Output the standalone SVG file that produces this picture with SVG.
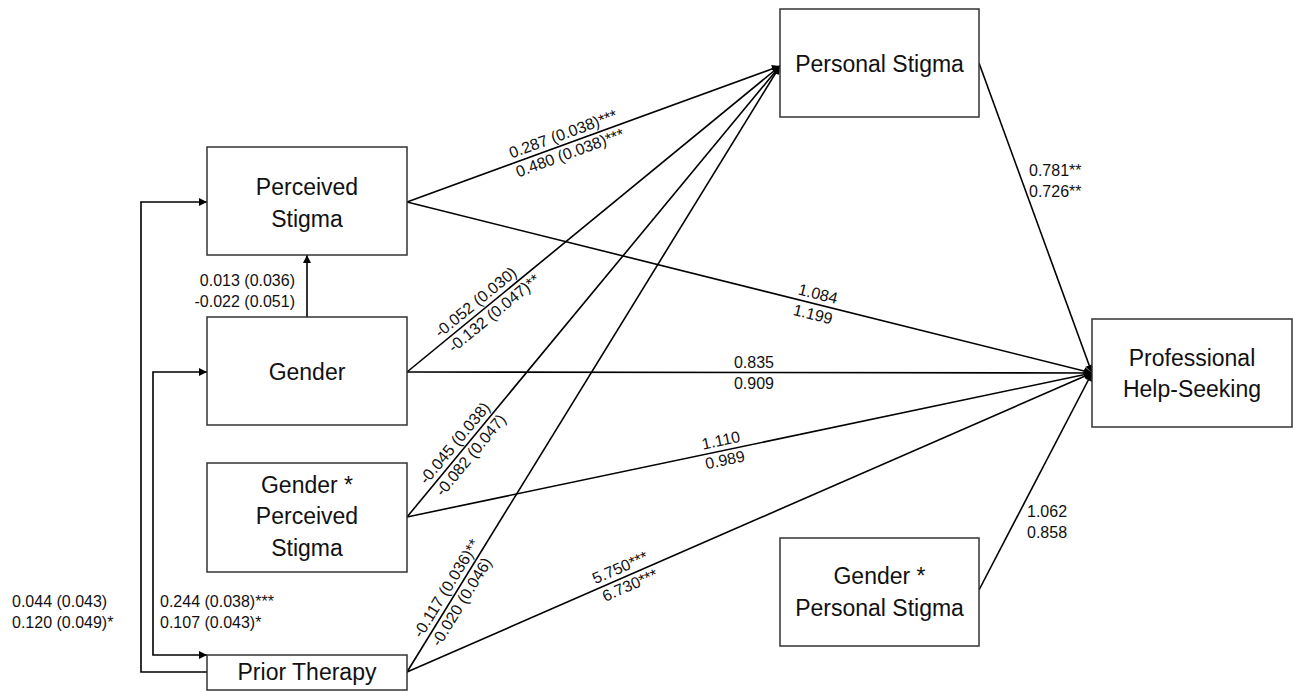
<svg xmlns="http://www.w3.org/2000/svg" width="1298" height="692" viewBox="0 0 1298 692">
<defs>
<marker id="ah" viewBox="0 0 10 10" refX="10" refY="5" markerWidth="9" markerHeight="8" markerUnits="userSpaceOnUse" orient="auto-start-reverse">
<path d="M0,0 L10,5 L0,10 z" fill="#000"/>
</marker>
</defs>
<style>
.box{fill:#fff;stroke:#333;stroke-width:1.5}
.nt{font-family:"Liberation Sans",Arial,sans-serif;font-size:23px;fill:#111;text-anchor:middle}
.el{font-family:"Liberation Sans",Arial,sans-serif;font-size:16px;fill:#111}
.ln{fill:none;stroke:#000;stroke-width:1.6;marker-end:url(#ah)}
.both{marker-start:url(#ah)}
.m{text-anchor:middle}
.e{text-anchor:end}
</style>
<rect width="1298" height="692" fill="#fff"/>

<g id="connectors">
<path class="ln" d="M407,202 L780,66"/>
<path class="ln" d="M407,372 L780,66"/>
<path class="ln" d="M407,517 L780,66"/>
<path class="ln" d="M407,672 L780,66"/>
<path class="ln" d="M407,202 L1092,373"/>
<path class="ln" d="M407,372 L1092,373"/>
<path class="ln" d="M407,517 L1092,373"/>
<path class="ln" d="M407,672 L1092,373"/>
<path class="ln" d="M979,63 L1092,373"/>
<path class="ln" d="M979,590 L1092,373"/>
<path class="ln" d="M307,317 L307,255"/>
<path class="ln" d="M207,672 L141,672 L141,202 L207,202"/>
<path class="ln both" d="M207,372 L153,372 L153,655 L207,655"/>

<g transform="translate(407,202) rotate(-20.03)">
<text class="el" x="113" y="-5">0.287 (0.038)***</text>
<text class="el" x="113" y="15">0.480 (0.038)***</text>
</g>
<g transform="translate(407,372) rotate(-39.36)">
<text class="el" x="47" y="-5">-0.052 (0.030)</text>
<text class="el" x="48" y="15">-0.132 (0.047)**</text>
</g>
<g transform="translate(407,517) rotate(-50.41)">
<text class="el" x="37" y="-5">-0.045 (0.038)</text>
<text class="el" x="38" y="15">-0.082 (0.047)</text>
</g>
<g transform="translate(407,672) rotate(-58.39)">
<text class="el" x="36" y="-5">-0.117 (0.036)**</text>
<text class="el" x="38" y="15">-0.020 (0.046)</text>
</g>
<g transform="translate(407,202) rotate(14.02)">
<text class="el m" x="421" y="-5">1.084</text>
<text class="el m" x="421" y="16">1.199</text>
</g>
<text class="el m" x="754" y="368">0.835</text>
<text class="el m" x="754" y="389">0.909</text>
<g transform="translate(407,517) rotate(-11.87)">
<text class="el m" x="323" y="-5">1.110</text>
<text class="el m" x="323" y="15">0.989</text>
</g>
<g transform="translate(407,672) rotate(-23.58)">
<text class="el m" x="237" y="-5">5.750***</text>
<text class="el m" x="239" y="15">6.730***</text>
</g>
<text class="el" x="1029" y="176">0.781**</text>
<text class="el" x="1029" y="197">0.726**</text>
<text class="el" x="1027" y="517">1.062</text>
<text class="el" x="1027" y="538">0.858</text>
<text class="el e" x="295" y="286">0.013 (0.036)</text>
<text class="el e" x="295" y="307">-0.022 (0.051)</text>
<text class="el" x="12" y="607">0.044 (0.043)</text>
<text class="el" x="12" y="628">0.120 (0.049)*</text>
<text class="el" x="160" y="607">0.244 (0.038)***</text>
<text class="el" x="160" y="628">0.107 (0.043)*</text>
</g>

<g id="perceived-stigma">
<rect class="box" x="207" y="147" width="200" height="108"/>
<text class="nt" x="307" y="195">Perceived</text>
<text class="nt" x="307" y="227">Stigma</text>
</g>
<g id="gender">
<rect class="box" x="207" y="317" width="200" height="108"/>
<text class="nt" x="307" y="380">Gender</text>
</g>
<g id="gender-perceived-stigma">
<rect class="box" x="207" y="463" width="200" height="109"/>
<text class="nt" x="307" y="493">Gender *</text>
<text class="nt" x="307" y="524">Perceived</text>
<text class="nt" x="307" y="556">Stigma</text>
</g>
<g id="prior-therapy">
<rect class="box" x="207" y="655" width="200" height="35"/>
<text class="nt" x="307" y="680">Prior Therapy</text>
</g>
<g id="personal-stigma">
<rect class="box" x="780" y="9" width="199" height="108"/>
<text class="nt" x="879.5" y="72">Personal Stigma</text>
</g>
<g id="professional-help-seeking">
<rect class="box" x="1092" y="319" width="200" height="108"/>
<text class="nt" x="1192" y="366">Professional</text>
<text class="nt" x="1192" y="397">Help-Seeking</text>
</g>
<g id="gender-personal-stigma">
<rect class="box" x="780" y="538" width="199" height="108"/>
<text class="nt" x="879.5" y="584">Gender *</text>
<text class="nt" x="879.5" y="616">Personal Stigma</text>
</g>
</svg>
